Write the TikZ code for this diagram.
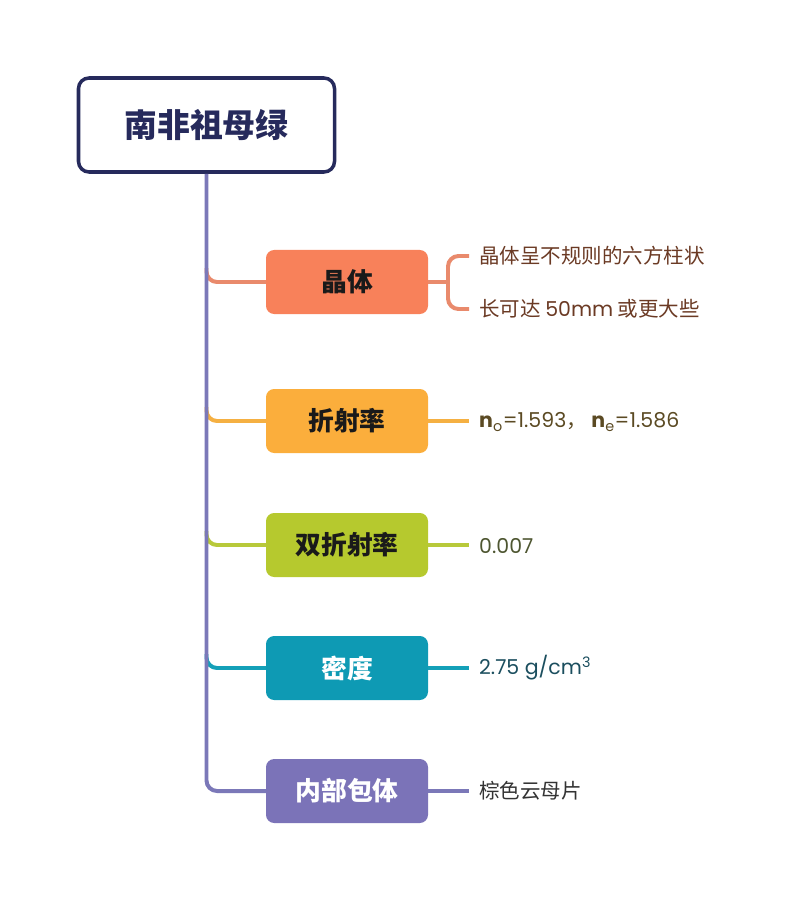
\documentclass[tikz,border=0pt]{standalone}
\usepackage{fontspec}
\setmainfont{Noto Sans CJK SC}
\newfontfamily\numfont{Poppins}
\definecolor{rootblue}{HTML}{262A5C}
\definecolor{trunkpurple}{HTML}{7B78B8}
\definecolor{crystalfill}{HTML}{F8815A}
\definecolor{crystalline}{HTML}{E98A6C}
\definecolor{crystaltext}{HTML}{6B3A24}
\definecolor{refrfill}{HTML}{FBAE3C}
\definecolor{refrline}{HTML}{F5B042}
\definecolor{refrtext}{HTML}{5B4A23}
\definecolor{birefill}{HTML}{B6C92E}
\definecolor{bireline}{HTML}{B8C93A}
\definecolor{biretext}{HTML}{4E5631}
\definecolor{densfill}{HTML}{0E9AB4}
\definecolor{densline}{HTML}{14A0B8}
\definecolor{denstext}{HTML}{1B4E5E}
\definecolor{inclfill}{HTML}{7B73B8}
\definecolor{incltext}{HTML}{333333}
\definecolor{darktext}{HTML}{1A1A1A}
\begin{document}
\begin{tikzpicture}[x=0.03cm, y=-0.03cm,
    box/.style={rounded corners=7pt, minimum width=4.86cm, minimum height=1.92cm,
        font=\fontsize{22}{26}\selectfont\bfseries},
    leaf/.style={anchor=west, inner xsep=8.5pt, inner ysep=0pt,
        font=\fontsize{17.5}{21}\selectfont},
    link/.style={line width=3.4pt, rounded corners=9pt}]
    \useasboundingbox (0,0) rectangle (794,903);
    \node[draw=rootblue, line width=3pt, rounded corners=9pt, minimum width=7.68cm,
        minimum height=2.82cm, text=rootblue, font=\fontsize{28}{32}\selectfont\bfseries]
        (root) at (206.5,125) {南非祖母绿};
    \node[box, fill=crystalfill, text=darktext] (crystal) at (347,282) {晶体};
    \node[box, fill=refrfill, text=darktext] (refr) at (347,421) {折射率};
    \node[box, fill=birefill, text=darktext] (biref) at (347,545) {双折射率};
    \node[box, fill=densfill, text=white] (dens) at (347,668) {密度};
    \node[box, fill=inclfill, text=white] (incl) at (347,791) {内部包体};
    % leaves
    \node[leaf, text=crystaltext] (habit) at (469,256) {晶体呈不规则的六方柱状};
    \node[leaf, text=crystaltext] (size) at (469,309) {长可达 {\numfont 50mm} 或更大些};
    \node[leaf, text=refrtext] (refrval) at (469,422)
        {{\numfont\textbf{n}\textsubscript{o}=1.593}，\ {\numfont\textbf{n}\textsubscript{e}=1.586}};
    \node[leaf, text=biretext] (birefval) at (469,546) {\numfont 0.007};
    \node[leaf, text=denstext] (densval) at (469,668) {\numfont 2.75 g/cm\textsuperscript{3}};
    \node[leaf, text=incltext] (inclval) at (469,791) {棕色云母片};
    \coordinate (fork) at (448,282);
    \path (root.south |- crystal.west) ++(0,-14) coordinate (jcrystal);
    \path (root.south |- refr.west) ++(0,-14) coordinate (jrefr);
    \path (root.south |- biref.west) ++(0,-14) coordinate (jbiref);
    \path (root.south |- dens.west) ++(0,-14) coordinate (jdens);
    % branches off the trunk
    \draw[link, crystalline] (jcrystal) |- (crystal.west);
    \draw[link, refrline] (jrefr) |- (refr.west);
    \draw[link, bireline] (jbiref) |- (biref.west);
    \draw[link, densline] (jdens) |- (dens.west);
    \draw[link, trunkpurple] (root.south) |- (incl.west);
    % to the leaves
    \draw[link, crystalline] (crystal.east) -- (fork);
    \draw[link, crystalline] (habit.west) -| (fork) |- (size.west);
    \draw[link, refrline] (refr.east) -- (refr.east -| refrval.west);
    \draw[link, bireline] (biref.east) -- (biref.east -| birefval.west);
    \draw[link, densline] (dens.east) -- (dens.east -| densval.west);
    \draw[link, trunkpurple] (incl.east) -- (incl.east -| inclval.west);
\end{tikzpicture}
\end{document}
